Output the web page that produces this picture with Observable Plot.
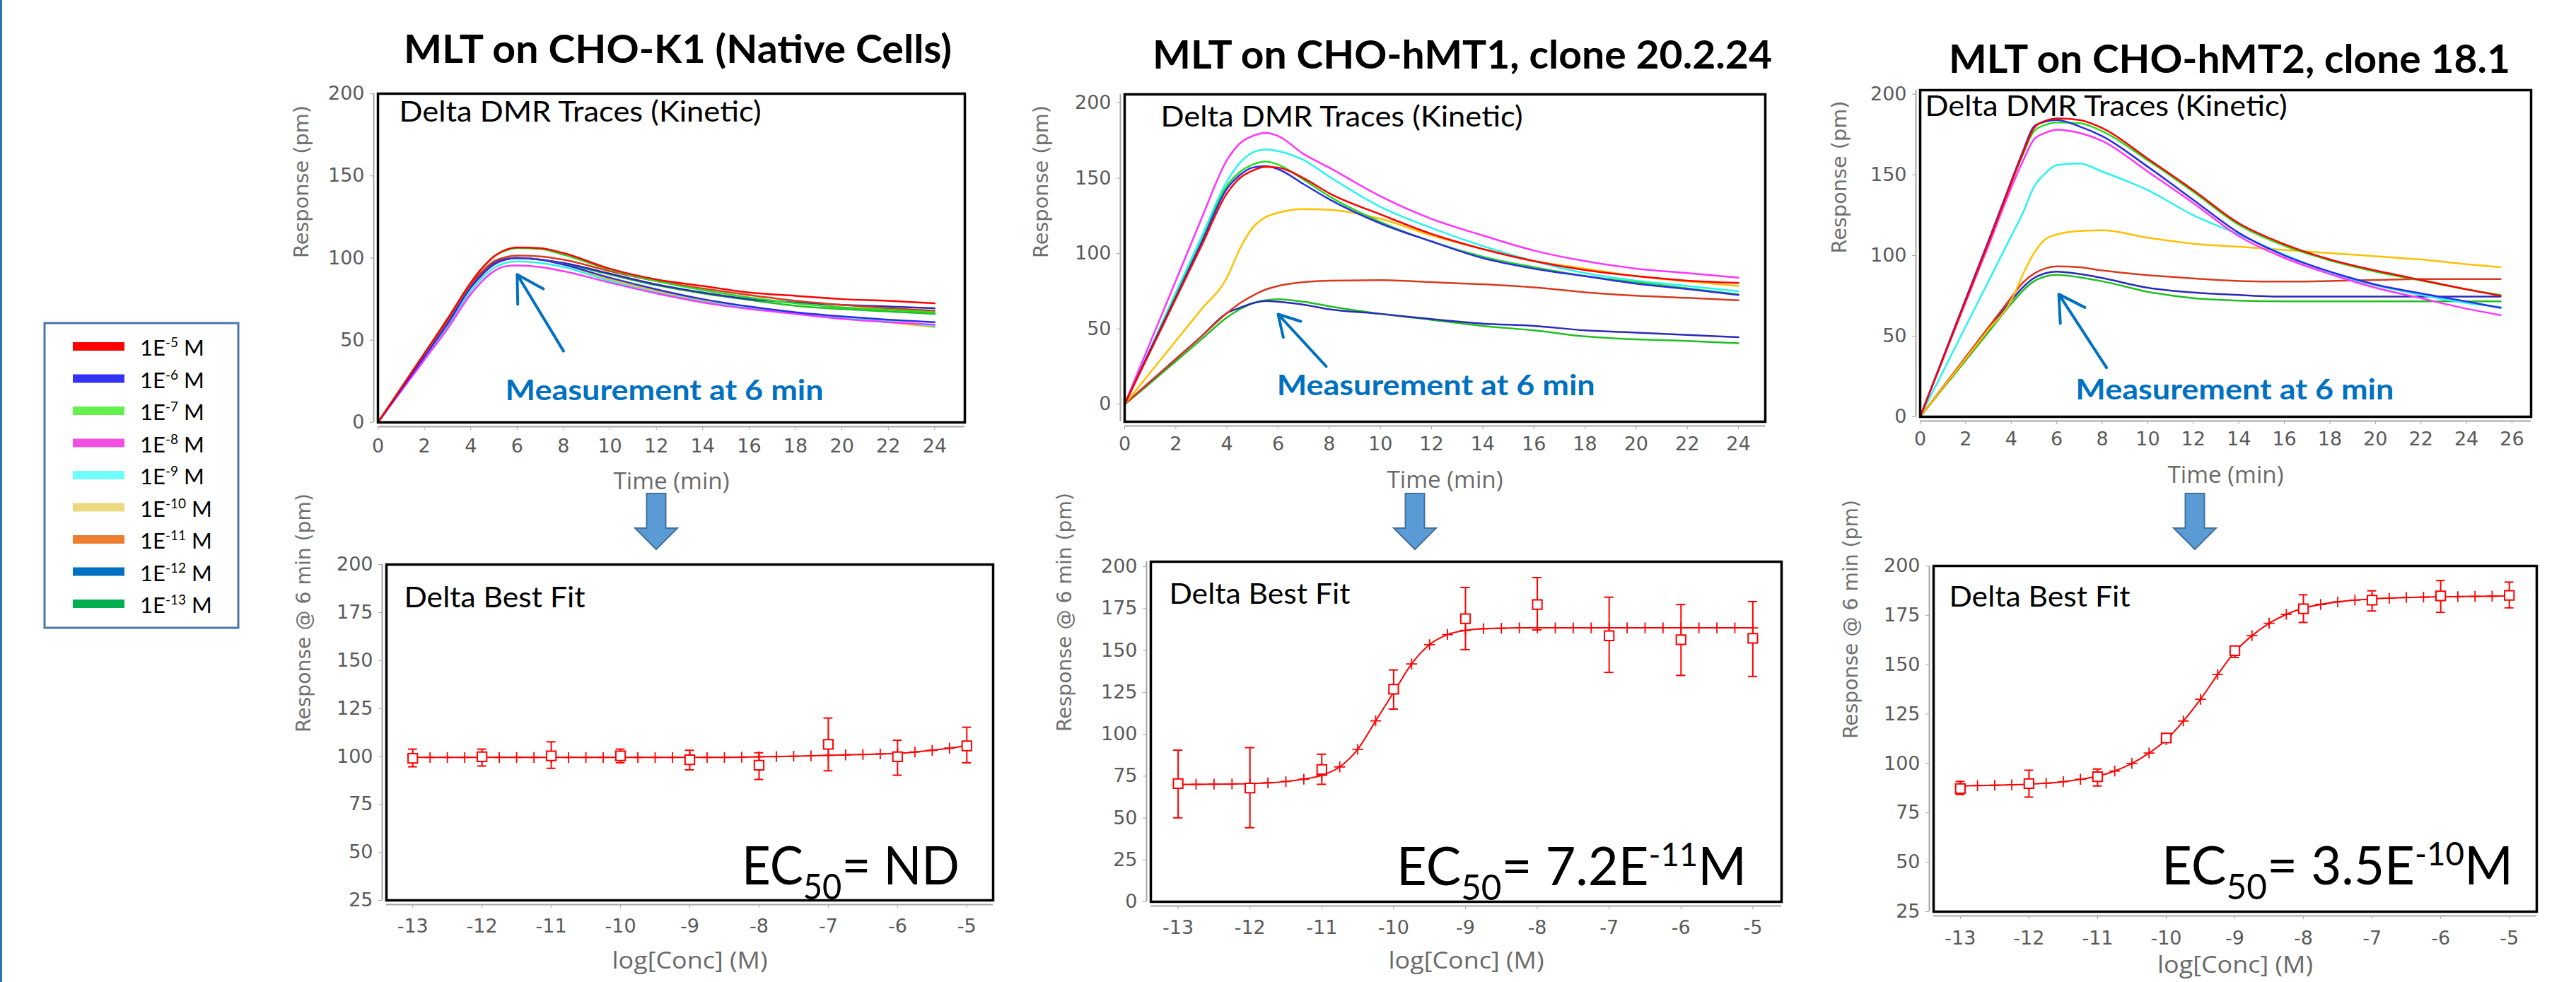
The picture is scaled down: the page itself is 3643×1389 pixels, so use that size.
<!DOCTYPE html>
<html><head><meta charset="utf-8">
<script src="https://cdn.jsdelivr.net/npm/d3@7"></script>
<script src="https://cdn.jsdelivr.net/npm/@observablehq/plot@0.6"></script>
<style>
html,body{margin:0;padding:0;background:#fff;}
#root{position:relative;width:3643px;height:1389px;overflow:hidden;background:#fff;}
#root > svg{position:absolute;}
</style></head><body><div id="root"></div>
<script>
// ---------------- DATA ----------------
const exponents = ["-5","-6","-7","-8","-9","-10","-11","-12","-13"];
const concLabels = exponents.map(e => `1E${e} M`);
const legendColors = ["#FF0000","#3333F5","#66F050","#F24FE0","#70FFFF","#EDD882","#ED7D31","#0070C0","#00B050"];
const traceColors  = ["#FF0000","#2B2BE8","#22DD22","#FF33FF","#2AF2F2","#FFC000","#D83A1E","#2A2AB8","#1FBF1F"];

const panelTitles = ["MLT on CHO-K1 (Native Cells)", "MLT on CHO-hMT1, clone 20.2.24", "MLT on CHO-hMT2, clone 18.1"];
const kineticTitle = "Delta DMR Traces (Kinetic)";
const fitTitle = "Delta Best Fit";
const noteText = "Measurement at 6 min";
const timeLabel = "Time (min)";
const respLabel = "Response (pm)";
const resp6Label = "Response @ 6 min (pm)";
const concLabel = "log[Conc] (M)";

const timeTicks24 = [0,2,4,6,8,10,12,14,16,18,20,22,24];
const timeTicks26 = [0,2,4,6,8,10,12,14,16,18,20,22,24,26];
const respTicks = [0,50,100,150,200];
const resp6Ticks25 = [25,50,75,100,125,150,175,200];
const resp6Ticks0 = [0,25,50,75,100,125,150,175,200];
const concTicks = [-13,-12,-11,-10,-9,-8,-7,-6,-5];

// Kinetic traces, one array per concentration (1E-5 ... 1E-13)
const timeK1 = [0,1,2,3,4,4.5,5,5.5,6,7,8,10,12,14,16,18,20,22,24];
const tracesK1 = [
  [0,21,42,63,85,94,101,105,106.5,106,103,93.5,87,83,79,77,75,74,72.5],
  [0,20,40,60,82,90,96,99,100,99,96,88,81,75,70.5,67,64.5,62.5,61],
  [0,21,42,63,85,94,101,104.5,106,105.5,102,93,86,80.5,76,72.5,70,68.5,67],
  [0,19,38,57,78,86,92,95,95.5,94.5,92,85,78.5,73,69,66,63,61,59.5],
  [0,19.5,39,58.5,80,88,94,97,98,97,94.5,86,79,73.5,69.5,66.5,63.5,61.5,58.5],
  [0,20,40,60,82,90,96,99,100,99,96,87,80,74,70,66.5,63.5,61,58],
  [0,20.5,41,61.5,84,92,98,100.5,101.5,101,99,92,86,81.5,77.5,74,71.5,69.5,68],
  [0,20,40,60,83,91,97,99.5,100,99,97,90.5,84,79,75,73,71.5,70.5,69.5],
  [0,20,40,60,83,91,97,99.5,100,99,96.5,90,83.5,78.5,74.5,71,69,67.5,66]
];
const timeMT1 = [0,1,2,3,4,4.5,5,5.5,6,7,8,10,12,14,16,18,20,22,24];
const tracesMT1 = [
  [0,35,70,105,140,150,155,157.5,157,150,140,126,113,103,95,89,85,82,80.5],
  [0,36,71,107,143,152,157,158,156,146,136,120,108,97,90,85,80,76.5,72.5],
  [0,36,72,108,145,154,159,161,159,149,138,121,108,98,91,85,81,77,73],
  [0,41,82,123,162,173,178,180,178,166,157,138,123,112,102,95,90,87,84],
  [0,37,74,111,148,160,167,169,168,162,151,131,117,105,95,87,82,78.5,75],
  [0,21,42,63,84,103,117,124,127,129.5,129,123,112,103,95,90,85,81.5,78.5],
  [0,15,30,45,60.5,67,72,76,78.5,81,82,82.3,81,79.6,77.5,74.3,72,70.6,69],
  [0,15,30,45,60.5,64,67,68.5,68,66,63,60,56.5,53.5,52,49,47.5,46,44.5],
  [0,14,28.5,43,57.6,63,67,69,69.7,68,65,60,56,52,49,45,43,42,40.5]
];
const timeMT2 = [0,1,2,3,4,4.5,5,5.5,6,7,8,10,12,14,16,18,20,22,24,25.5];
const tracesMT2 = [
  [0,36,72,108,145,163,179,183.5,185,184,179,160,140.5,120,107,97.5,90.7,84.8,79,75],
  [0,36.5,73,109,146,164,180,183,184,180,174,155,134.5,114,100,90,82,76.5,71.5,67.5],
  [0,36,72,108,145,162,177,181,182.5,182,177,159,139.5,119,106,97,90,84.5,79,75.5],
  [0,35.5,71,106,142,158,172,176,178,176,171,152,132.5,112,98.5,88.5,80,73.5,67,63],
  [0,28,56,84,112,126,142.5,151,156,157,152,140.5,125,113,100.5,89.5,81.5,75.5,70.5,68],
  [0,18,36,54,72,87.8,101.5,110,113,115.2,115.6,111,107.3,105.4,103.4,101.5,99.5,97.5,94.6,92.7],
  [0,18.5,37,55.5,74,83,88.7,92,93.2,92.7,90.7,87.8,85.8,84.2,83.8,84.2,84.8,85.4,85.4,85.4],
  [0,18,36,54,72,80,86,89,90,88.5,86,80,77,75.5,74.5,74.5,74.5,74.5,74.5,74.5],
  [0,17.5,35,52.5,70,78,84,87,88,86.5,84,77.5,73.5,72,71.5,71.5,71.5,71.5,71.5,71.5]
];

// Dose-response at 6 min
const logConc = [-13,-12,-11,-10,-9,-8,-7,-6,-5];
const meanK1 = [99,99.8,100.3,100.3,98.3,95.4,106.3,99.8,105.5];
const loK1   = [94.6,95,93.8,96.7,93,88,92.5,90.2,96.7];
const hiK1   = [103.8,103.8,107.6,103.8,103.2,101.9,120,108.4,115.2];
const meanMT1 = [70.5,67.9,79,126.9,169,177.4,158.8,156.4,157.3];
const loMT1   = [50.1,44.2,70.1,115,150.5,162.3,136.9,135.1,134.5];
const hiMT1   = [90.5,92,88.1,138.4,187.6,193.5,181.8,177.4,179.2];
const meanMT2 = [87.3,89.8,93.3,112.9,157.1,178.3,182.7,184.8,185.1];
const loMT2   = [84.3,83,88.6,111.5,153.7,171.4,177.2,176.5,178.8];
const hiMT2   = [90.9,96.6,97.2,114.3,159.2,185.4,187.4,192.6,191.8];

const fitX = [-13,-12.75,-12.5,-12.25,-12,-11.75,-11.5,-11.25,-11,-10.75,-10.5,-10.25,-10,-9.75,-9.5,-9.25,-9,-8.75,-8.5,-8.25,-8,-7.75,-7.5,-7.25,-7,-6.75,-6.5,-6.25,-6,-5.75,-5.5,-5.25,-5];
const fitK1 = [99.5,99.5,99.5,99.5,99.5,99.5,99.5,99.5,99.5,99.5,99.5,99.5,99.5,99.5,99.5,99.5,99.5,99.5,99.5,99.6,99.8,99.9,100.1,100.3,100.6,100.8,101,101.3,101.6,102.3,103.2,104.3,105.5];
const fitMT1 = [70.1,70.1,70.2,70.3,70.5,71,71.8,73.2,75.5,80.5,91,108,125,142,153.5,159.5,162,163,163.3,163.5,163.5,163.5,163.5,163.5,163.5,163.5,163.5,163.5,163.5,163.5,163.5,163.5,163.5];
const fitMT2 = [88.6,88.8,89,89.2,89.5,90,90.8,92,93.5,96.2,100,105.3,112,121.5,132.5,145,156.5,164.7,171,175.5,178.6,180.5,181.8,182.7,183.3,183.7,184,184.2,184.4,184.5,184.6,184.7,184.8];

const ec50Values = [{value: "ND", exp: null, unit: ""}, {value: "7.2E", exp: "-11", unit: "M"}, {value: "3.5E", exp: "-10", unit: "M"}];

// ---------------- LAYOUT ----------------
const root = document.getElementById("root");
const M = {l: 170, r: 20, t: 20, b: 120};
const RED = "#FF0000";
const NOTE = "#0070C0";
const fitWidths = {};
fitWidths[kineticTitle] = 512;
fitWidths[fitTitle] = 256;
fitWidths[noteText] = 450;
fitWidths[respLabel] = 216;
fitWidths[resp6Label] = 338;
fitWidths[concLabel] = 220;
fitWidths[timeLabel] = 164;

function fitText(svg) {
  svg.querySelectorAll("text").forEach(t => {
    const w = fitWidths[t.textContent];
    if (w) { t.setAttribute("textLength", w); t.setAttribute("lengthAdjust", "spacingAndGlyphs"); }
  });
}
function place(svg, f) {
  svg.style.left = (f.x0 - M.l) + "px";
  svg.style.top = (f.y0 - M.t) + "px";
  fitText(svg);
  root.appendChild(svg);
}
function axesMarks(c, xticks, yticks, ylab, xlab) {
  return [
    Plot.ruleX([c.xdom[0]], {dx: -6, stroke: "#a6a6a6", strokeWidth: 2}),
    Plot.ruleY([c.ydom[0]], {dy: 6, stroke: "#a6a6a6", strokeWidth: 2}),
    Plot.axisY({ticks: yticks, tickFormat: d => String(d), tickSize: 5, tickPadding: 8, dx: -6, label: null, stroke: "#a6a6a6", fill: "#5a5a5a", fontSize: 27, fontFamily: "DejaVu Sans"}),
    Plot.axisX({ticks: xticks, tickFormat: d => String(d), tickSize: 5, tickPadding: c.xTickPad, dy: 6, label: null, stroke: "#a6a6a6", fill: "#5a5a5a", fontSize: 27, fontFamily: "DejaVu Sans"}),
    Plot.text([ylab], {text: d => d, frameAnchor: "left", lineAnchor: "middle", rotate: -90, dx: -c.ylabOff, fontFamily: "DejaVu Sans", fontSize: 28, fill: "#707070"}),
    Plot.text([xlab], {text: d => d, frameAnchor: "bottom", lineAnchor: "middle", dy: c.xlabDy, fontFamily: "Open Sans", fontSize: 32, fill: "#6a6a6a"})
  ];
}

const kinPanels = [
  {frame: {x0: 534, x1: 1364, y0: 132, y1: 597}, xdom: [0, 25.3], ydom: [0, 200], xticks: timeTicks24, time: timeK1, traces: tracesK1,
   ylabOff: 107, xlabDy: 84, xTickPad: 12, innerDx: 30, innerDy: 26, note: {x: 5.49, y: 19.4}, arrow: {x1: 8.0, y1: 43.4, x2: 6.0, y2: 90}},
  {frame: {x0: 1590, x1: 2496, y0: 133, y1: 596}, xdom: [0, 25.05], ydom: [-11.6, 205.6], xticks: timeTicks24, time: timeMT1, traces: tracesMT1,
   ylabOff: 117, xlabDy: 83, xTickPad: 10, innerDx: 51, innerDy: 32, note: {x: 5.95, y: 12.3}, arrow: {x1: 7.88, y1: 25.1, x2: 6.0, y2: 59.7}},
  {frame: {x0: 2715, x1: 3579, y0: 127, y1: 589}, xdom: [0, 26.84], ydom: [0, 202.5], xticks: timeTicks26, time: timeMT2, traces: tracesMT2,
   ylabOff: 113, xlabDy: 83, xTickPad: 10, innerDx: 7, innerDy: 23, note: {x: 6.83, y: 16.4}, arrow: {x1: 8.19, y1: 30.4, x2: 6.09, y2: 76}}
];

kinPanels.forEach(c => {
  const rows = [];
  for (let s = c.traces.length - 1; s >= 0; s--) {
    c.traces[s].forEach((v, i) => rows.push({t: c.time[i], v, c: concLabels[s]}));
  }
  const f = c.frame;
  const svg = Plot.plot({
    width: f.x1 - f.x0 + M.l + M.r, height: f.y1 - f.y0 + M.t + M.b,
    marginLeft: M.l, marginRight: M.r, marginTop: M.t, marginBottom: M.b,
    x: {domain: c.xdom}, y: {domain: c.ydom},
    color: {domain: concLabels, range: traceColors},
    style: {background: "transparent", overflow: "visible", fontFamily: "DejaVu Sans", fontSize: "27px", color: "#5a5a5a"},
    marks: [
      ...axesMarks(c, c.xticks, respTicks, respLabel, timeLabel),
      Plot.line(rows, {x: "t", y: "v", z: "c", stroke: "c", strokeWidth: 2.5, curve: "monotone-x"}),
      Plot.text([kineticTitle], {text: d => d, frameAnchor: "top-left", lineAnchor: "middle", dx: c.innerDx, dy: c.innerDy, textAnchor: "start", fontFamily: "Lato", fontSize: 41, fill: "#000"}),
      Plot.text([c.note], {x: "x", y: "y", text: () => noteText, textAnchor: "start", lineAnchor: "middle", fontFamily: "Lato", fontWeight: "bold", fontSize: 41, fill: NOTE}),
      Plot.arrow([c.arrow], {x1: "x1", y1: "y1", x2: "x2", y2: "y2", stroke: NOTE, strokeWidth: 4, headLength: 20}),
      Plot.frame({stroke: "#000", strokeWidth: 3.5})
    ]
  });
  place(svg, f);
});

const dosePanels = [
  {frame: {x0: 546, x1: 1404, y0: 798, y1: 1273}, xdom: [-13.38, -4.62], ydom: [25, 200], yticks: resp6Ticks25,
   mean: meanK1, lo: loK1, hi: hiK1, fit: fitK1, ylabOff: 116, xlabDy: 86, xTickPad: 15, innerDx: 25, innerDy: 47},
  {frame: {x0: 1627, x1: 2519, y0: 794, y1: 1275}, xdom: [-13.38, -4.6], ydom: [0, 203], yticks: resp6Ticks0,
   mean: meanMT1, lo: loMT1, hi: hiMT1, fit: fitMT1, ylabOff: 121, xlabDy: 84, xTickPad: 15, innerDx: 26, innerDy: 46},
  {frame: {x0: 2734, x1: 3587, y0: 800, y1: 1289}, xdom: [-13.39, -4.6], ydom: [25, 200], yticks: resp6Ticks25,
   mean: meanMT2, lo: loMT2, hi: hiMT2, fit: fitMT2, ylabOff: 116, xlabDy: 76, xTickPad: 16, innerDx: 22, innerDy: 44}
];
const capHalf = 0.065;
dosePanels.forEach(c => {
  const pts = logConc.map((x, i) => ({x, y: c.mean[i], lo: c.lo[i], hi: c.hi[i]}));
  const fit = fitX.map((x, i) => ({x, y: c.fit[i]}));
  const f = c.frame;
  const svg = Plot.plot({
    width: f.x1 - f.x0 + M.l + M.r, height: f.y1 - f.y0 + M.t + M.b,
    marginLeft: M.l, marginRight: M.r, marginTop: M.t, marginBottom: M.b,
    x: {domain: c.xdom}, y: {domain: c.ydom},
    style: {background: "transparent", overflow: "visible", fontFamily: "DejaVu Sans", fontSize: "27px", color: "#5a5a5a"},
    marks: [
      ...axesMarks(c, concTicks, c.yticks, resp6Label, concLabel),
      Plot.line(fit, {x: "x", y: "y", stroke: RED, strokeWidth: 2, curve: "monotone-x"}),
      Plot.dot(fit, {x: "x", y: "y", symbol: "plus", r: 5, stroke: RED, strokeWidth: 1.8}),
      Plot.ruleX(pts, {x: "x", y1: "lo", y2: "hi", stroke: RED, strokeWidth: 2}),
      Plot.ruleY(pts, {y: "hi", x1: d => d.x - capHalf, x2: d => d.x + capHalf, stroke: RED, strokeWidth: 2}),
      Plot.ruleY(pts, {y: "lo", x1: d => d.x - capHalf, x2: d => d.x + capHalf, stroke: RED, strokeWidth: 2}),
      Plot.dot(pts, {x: "x", y: "y", symbol: "square", r: 7.5, stroke: RED, fill: "white", strokeWidth: 2}),
      Plot.text([fitTitle], {text: d => d, frameAnchor: "top-left", lineAnchor: "middle", dx: c.innerDx, dy: c.innerDy, textAnchor: "start", fontFamily: "Lato", fontSize: 41, fill: "#000"}),
      Plot.frame({stroke: "#000", strokeWidth: 3.5})
    ]
  });
  place(svg, f);
});

// ---------------- OVERLAY: titles, legend, EC50, block arrows ----------------
const ov = d3.create("svg").attr("width", 3643).attr("height", 1389).style("left", "0px").style("top", "0px");
ov.append("rect").attr("x", 0).attr("y", 0).attr("width", 3).attr("height", 1389).attr("fill", "#2E75B6");

const titlePos = [{x: 571, y: 89, w: 775}, {x: 1630, y: 97, w: 876}, {x: 2756, y: 103, w: 794}];
panelTitles.forEach((t, i) => {
  ov.append("text").attr("x", titlePos[i].x).attr("y", titlePos[i].y)
    .attr("font-family", "Lato").attr("font-weight", "bold").attr("font-size", 56).attr("fill", "#000")
    .attr("textLength", titlePos[i].w).attr("lengthAdjust", "spacingAndGlyphs").text(t);
});

const arrowCx = [928, 2001, 3104];
arrowCx.forEach(cx => {
  ov.append("path")
    .attr("d", `M${cx-13.5},698 L${cx+13.5},698 L${cx+13.5},747 L${cx+30},747 L${cx},777 L${cx-30},747 L${cx-13.5},747 Z`)
    .attr("fill", "#5B9BD5").attr("stroke", "#41719C").attr("stroke-width", 2);
});

const ecPos = [{x: 1049, y: 1251, w: 308}, {x: 1975, y: 1252, w: 495}, {x: 3057, y: 1251, w: 497}];
ec50Values.forEach((e, i) => {
  const t = ov.append("text").attr("x", ecPos[i].x).attr("y", ecPos[i].y)
    .attr("font-family", "Lato").attr("font-size", 75).attr("fill", "#000");
  t.append("tspan").text("EC");
  t.append("tspan").attr("font-size", 50).attr("dy", 21).text("50");
  t.append("tspan").attr("dy", -21).text("= " + e.value);
  if (e.exp) {
    t.append("tspan").attr("font-size", 46).attr("dy", -27).text(e.exp);
    t.append("tspan").attr("dy", 27).text(e.unit);
  }
  t.attr("textLength", ecPos[i].w).attr("lengthAdjust", "spacingAndGlyphs");
});

// legend
const lg = ov.append("g");
lg.append("rect").attr("x", 63).attr("y", 457).attr("width", 274).attr("height", 431)
  .attr("fill", "white").attr("stroke", "#4A76A8").attr("stroke-width", 3);
concLabels.forEach((lab, i) => {
  const base = 503 + i * 45.5;
  lg.append("rect").attr("x", 103).attr("y", base - 19).attr("width", 73).attr("height", 12).attr("fill", legendColors[i]);
  const t = lg.append("text").attr("x", 198).attr("y", base).attr("font-family", "Lato").attr("font-size", 31).attr("fill", "#000");
  t.append("tspan").text("1E");
  t.append("tspan").attr("font-size", 19).attr("dy", -12).text(exponents[i]);
  t.append("tspan").attr("dy", 12).text(" M");
});

root.appendChild(ov.node());
</script></body></html>
